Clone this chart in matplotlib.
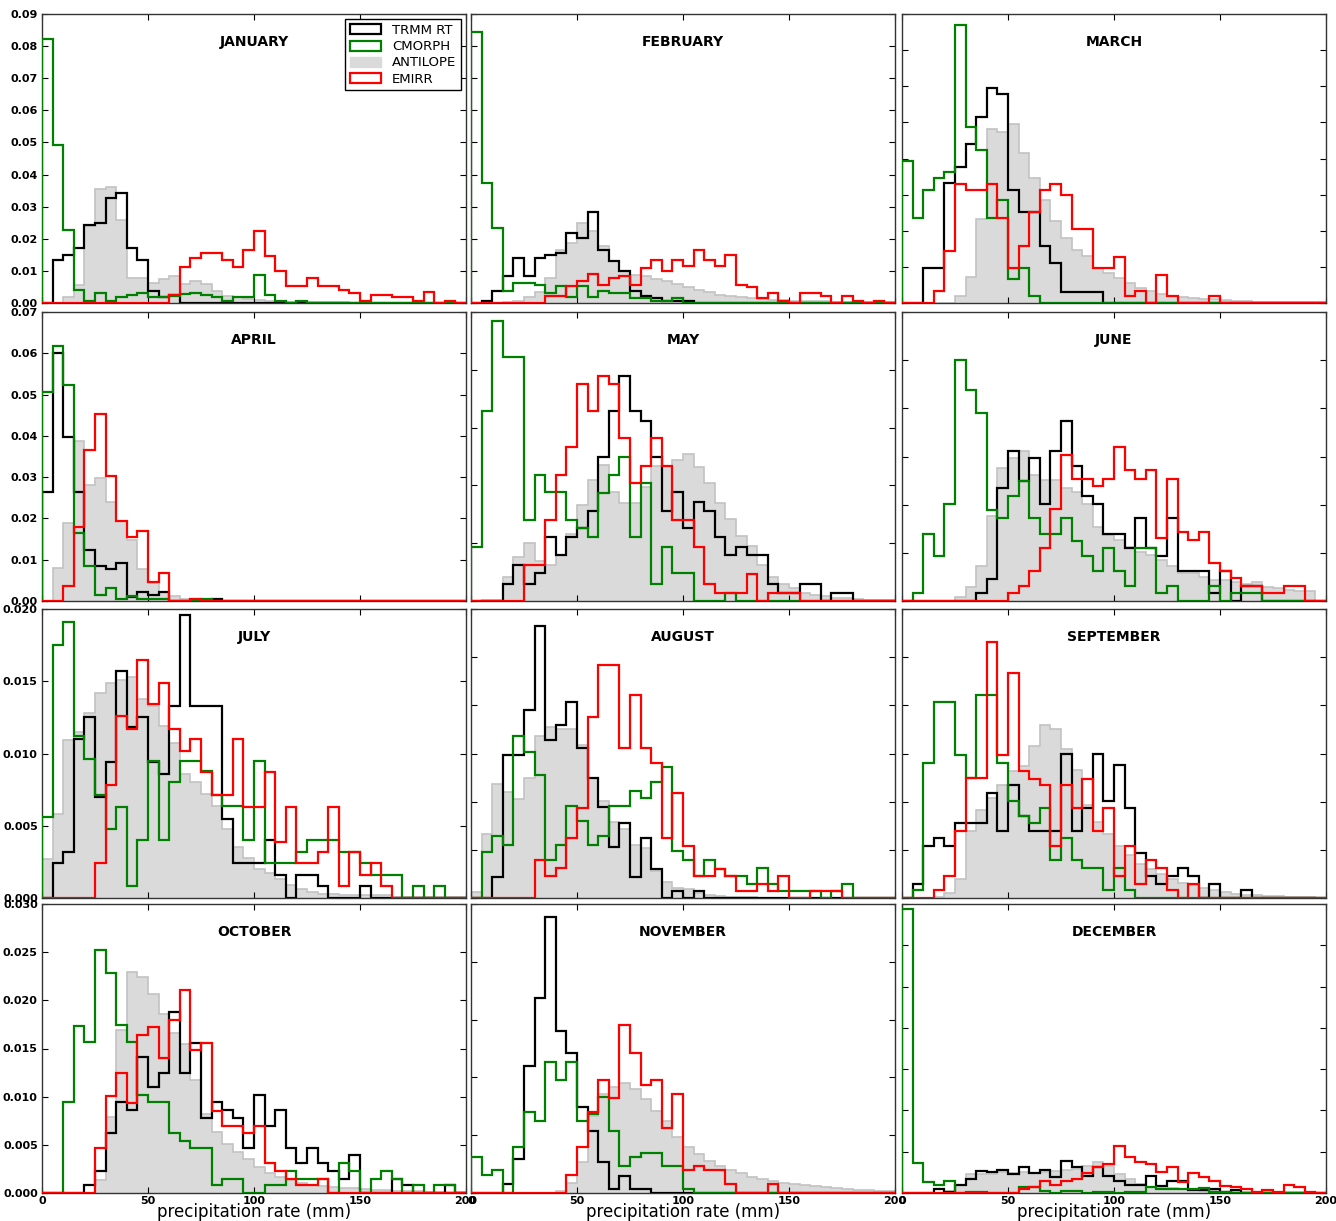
import matplotlib
matplotlib.use("Agg")
import matplotlib.pyplot as plt
import numpy as np
from matplotlib.patches import Patch
from matplotlib.ticker import MultipleLocator, FormatStrFormatter

# histogram bins: 5 mm wide, 0-200 mm
bin_edges = np.arange(0, 205, 5)

months = ['JANUARY', 'FEBRUARY', 'MARCH', 'APRIL', 'MAY', 'JUNE',
          'JULY', 'AUGUST', 'SEPTEMBER', 'OCTOBER', 'NOVEMBER', 'DECEMBER']
products = ['TRMM RT', 'CMORPH', 'ANTILOPE', 'EMIRR']

# normalised frequency per bin
jan_trmm = [0, .0133, .0148, .0172, .0242, .0249, .0327, .0344, .0170, .0135, .0038, .0019, .0024, 0, 0, 0, 0, 0, 0, 0,
            0, 0, 0, 0, 0, 0, 0, 0, 0, 0, 0, 0, 0, 0, 0, 0, 0, 0, 0, 0]
jan_cmorph = [.0822, .0493, .0226, .0039, .0007, .0030, .0007, .0019, .0024, .0030, .0019, .0019, .0023, .0027, .0030, .0024, .0019, .0007, .0019, .0019,
              .0086, .0024, .0007, 0, .0007, 0, 0, 0, 0, 0, 0, 0, 0, 0, 0, 0, 0, 0, 0, 0]
jan_antilope = [0, 0, .0020, .0056, .0240, .0356, .0362, .0260, .0078, .0078, .0062, .0075, .0083, .0060, .0070, .0060, .0036, .0023, .0019, .0012,
                .0008, .0006, .0005, .0004, .0003, .0003, .0002, .0002, .0002, .0001, .0001, .0001, .0001, .0001, 0, 0, 0, 0, 0, 0]
jan_emirr = [0, 0, 0, 0, 0, 0, 0, 0, 0, 0, 0, 0, .0024, .0112, .0140, .0156, .0156, .0133, .0112, .0166,
             .0225, .0145, .0100, .0052, .0052, .0079, .0052, .0052, .0041, .0031, .0007, .0024, .0024, .0019, .0019, .0007, .0033, 0, .0007, 0]

feb_trmm = [0, .0006, .0038, .0084, .0140, .0084, .0140, .0148, .0156, .0217, .0201, .0282, .0166, .0130, .0100, .0038, .0023, .0015, .0006, .0006,
            .0006, 0, 0, 0, 0, 0, 0, 0, 0, 0, 0, 0, 0, 0, 0, 0, 0, 0, 0, 0]
feb_cmorph = [.0844, .0374, .0234, .0038, .0062, .0062, .0056, .0031, .0054, .0019, .0054, .0019, .0038, .0031, .0031, .0015, .0015, .0006, .0006, .0015,
              0, 0, 0, 0, 0, 0, 0, 0, 0, 0, 0, 0, 0, 0, 0, 0, 0, 0, 0, 0]
feb_antilope = [0, 0, 0, .0002, .0006, .0018, .0035, .0078, .0166, .0187, .0249, .0224, .0178, .0130, .0099, .0088, .0083, .0075, .0067, .0060,
                .0050, .0041, .0033, .0026, .0021, .0018, .0015, .0012, .0010, .0008, .0007, .0006, .0005, .0005, .0004, .0004, .0003, .0003, .0002, .0002]
feb_emirr = [0, 0, 0, 0, 0, 0, 0, .0023, .0023, .0052, .0070, .0090, .0057, .0077, .0083, .0057, .0110, .0135, .0100, .0135,
             .0115, .0166, .0135, .0115, .0148, .0057, .0050, .0015, .0031, .0006, 0, .0031, .0031, .0023, 0, .0023, .0006, 0, .0006, 0]

mar_trmm = [0, 0, .0048, .0048, .0166, .0188, .0220, .0258, .0298, .0289, .0157, .0126, .0126, .0079, .0055, .0015, .0015, .0015, .0015, 0,
            0, 0, 0, 0, 0, 0, 0, 0, 0, 0, 0, 0, 0, 0, 0, 0, 0, 0, 0, 0]
mar_cmorph = [.0196, .0118, .0157, .0173, .0181, .0385, .0243, .0212, .0118, .0142, .0033, .0048, .0009, 0, 0, 0, 0, 0, 0, 0,
              0, 0, 0, 0, 0, 0, 0, 0, 0, 0, 0, 0, 0, 0, 0, 0, 0, 0, 0, 0]
mar_antilope = [0, 0, 0, 0, 0, .0009, .0036, .0116, .0241, .0237, .0248, .0207, .0173, .0142, .0113, .0090, .0074, .0065, .0049, .0042,
                .0035, .0027, .0021, .0016, .0013, .0010, .0008, .0007, .0006, .0005, .0004, .0003, .0003, .0002, .0002, .0002, .0001, .0001, .0001, .0001]
mar_emirr = [0, 0, 0, .0016, .0072, .0165, .0157, .0157, .0165, .0118, .0048, .0079, .0126, .0157, .0165, .0149, .0102, .0102, .0048, .0048,
             .0063, .0009, .0016, 0, .0039, .0009, 0, 0, 0, .0009, 0, 0, 0, 0, 0, 0, 0, 0, 0, 0]

apr_trmm = [.0265, .0601, .0398, .0265, .0123, .0085, .0077, .0093, .0010, .0023, .0015, .0023, 0, 0, 0, 0, .0006, 0, 0, 0,
            0, 0, 0, 0, 0, 0, 0, 0, 0, 0, 0, 0, 0, 0, 0, 0, 0, 0, 0, 0]
apr_cmorph = [.0506, .0617, .0523, .0164, .0085, .0015, .0031, .0006, .0013, .0006, .0006, .0006, 0, 0, .0003, .0006, 0, 0, 0, 0,
              0, 0, 0, 0, 0, 0, 0, 0, 0, 0, 0, 0, 0, 0, 0, 0, 0, 0, 0, 0]
apr_antilope = [0, .0079, .0188, .0387, .0282, .0297, .0239, .0194, .0148, .0077, .0043, .0023, .0013, .0006, .0003, .0002, .0001, 0, 0, 0,
                0, 0, 0, 0, 0, 0, 0, 0, 0, 0, 0, 0, 0, 0, 0, 0, 0, 0, 0, 0]
apr_emirr = [0, 0, .0036, .0180, .0365, .0454, .0303, .0194, .0156, .0170, .0047, .0069, 0, 0, .0006, 0, 0, 0, 0, 0,
             0, 0, 0, 0, 0, 0, 0, 0, 0, 0, 0, 0, 0, 0, 0, 0, 0, 0, 0, 0]

may_trmm = [0, 0, 0, .0015, .0031, .0015, .0024, .0055, .0040, .0055, .0063, .0078, .0125, .0164, .0195, .0164, .0156, .0125, .0078, .0094,
            .0063, .0086, .0078, .0055, .0040, .0047, .0040, .0040, .0015, .0007, .0007, .0015, .0015, 0, .0007, .0007, 0, 0, 0, 0]
may_cmorph = [.0047, .0164, .0242, .0211, .0211, .0070, .0109, .0094, .0094, .0070, .0063, .0055, .0093, .0109, .0125, .0055, .0102, .0015, .0047, .0024,
              .0024, 0, 0, 0, .0007, 0, 0, 0, 0, 0, 0, 0, 0, 0, 0, 0, 0, 0, 0, 0]
may_antilope = [0, .0001, .0001, .0021, .0038, .0050, .0035, .0031, .0040, .0058, .0083, .0105, .0118, .0094, .0085, .0085, .0099, .0117, .0117, .0122,
                .0127, .0116, .0102, .0085, .0071, .0056, .0048, .0031, .0021, .0015, .0011, .0007, .0005, .0004, .0003, .0003, .0002, .0001, .0001, .0001]
may_emirr = [0, 0, 0, 0, 0, .0031, .0031, .0070, .0109, .0133, .0188, .0164, .0195, .0188, .0141, .0102, .0117, .0141, .0117, .0070,
             .0070, .0047, .0015, .0007, .0007, .0007, .0023, 0, .0007, .0007, .0007, 0, 0, 0, 0, 0, 0, 0, 0, 0]

jun_trmm = [0, 0, 0, 0, 0, 0, 0, .0008, .0023, .0117, .0156, .0125, .0148, .0101, .0156, .0187, .0140, .0109, .0101, .0070,
            .0070, .0055, .0086, .0055, .0047, .0086, .0031, .0031, .0031, .0008, .0031, 0, .0016, .0016, 0, 0, 0, 0, 0, 0]
jun_cmorph = [0, .0008, .0070, .0047, .0101, .0250, .0219, .0195, .0094, .0086, .0109, .0125, .0086, .0070, .0070, .0086, .0062, .0047, .0031, .0055,
              .0031, .0016, .0055, .0055, .0008, .0016, 0, 0, 0, .0016, 0, .0008, .0008, .0008, 0, 0, 0, 0, 0, 0]
jun_antilope = [0, 0, 0, 0, 0, .0004, .0015, .0036, .0088, .0138, .0148, .0156, .0131, .0126, .0126, .0117, .0113, .0101, .0077, .0068,
                .0063, .0056, .0051, .0048, .0043, .0036, .0029, .0029, .0025, .0022, .0022, .0020, .0018, .0020, .0015, .0013, .0011, .0010, .0010, 0]
jun_emirr = [0, 0, 0, 0, 0, 0, 0, 0, 0, 0, .0008, .0016, .0031, .0055, .0096, .0152, .0127, .0127, .0119, .0127,
             .0160, .0136, .0127, .0136, .0065, .0127, .0072, .0063, .0072, .0039, .0031, .0024, .0016, .0016, .0008, .0008, .0016, .0016, 0, 0]

jul_trmm = [0, .0024, .0032, .0110, .0125, .0070, .0094, .0157, .0118, .0125, .0094, .0086, .0133, .0196, .0133, .0133, .0133, .0055, .0024, .0024,
            .0024, .0040, .0016, 0, .0016, .0016, .0008, 0, 0, 0, .0008, 0, 0, 0, 0, 0, 0, 0, 0, 0]
jul_cmorph = [.0056, .0175, .0191, .0112, .0096, .0071, .0048, .0063, .0008, .0040, .0095, .0040, .0080, .0095, .0095, .0088, .0071, .0064, .0064, .0040,
              .0095, .0024, .0024, .0024, .0032, .0040, .0040, .0040, .0032, .0032, .0024, .0016, .0016, .0016, 0, .0008, 0, .0008, 0, 0]
jul_antilope = [.0027, .0058, .0109, .0115, .0128, .0142, .0149, .0151, .0153, .0138, .0133, .0119, .0107, .0086, .0080, .0072, .0064, .0048, .0035, .0028,
                .0020, .0017, .0013, .0009, .0006, .0004, .0003, .0003, .0002, .0002, .0002, .0002, .0002, .0001, .0001, .0001, .0001, .0001, .0001, .0001]
jul_emirr = [0, 0, 0, 0, 0, .0024, .0078, .0126, .0117, .0165, .0134, .0149, .0117, .0102, .0110, .0087, .0071, .0071, .0110, .0063,
             .0063, .0087, .0039, .0063, .0024, .0024, .0032, .0063, .0008, .0032, .0016, .0024, .0008, 0, 0, 0, 0, 0, 0, 0]

aug_trmm = [0, 0, .0022, .0148, .0148, .0195, .0282, .0164, .0180, .0203, .0156, .0125, .0094, .0053, .0078, .0022, .0062, .0030, 0, .0007,
            0, .0007, 0, 0, 0, 0, 0, 0, 0, 0, 0, 0, 0, 0, 0, 0, 0, 0, 0, 0]
aug_cmorph = [0, .0048, .0064, .0055, .0168, .0152, .0128, .0039, .0055, .0096, .0080, .0055, .0064, .0096, .0096, .0111, .0104, .0120, .0136, .0049,
              .0039, .0023, .0039, .0030, .0023, .0023, .0015, .0031, .0015, .0007, .0007, .0007, .0007, 0, .0007, .0015, 0, 0, 0, 0]
aug_antilope = [.0006, .0066, .0118, .0110, .0103, .0125, .0168, .0178, .0175, .0175, .0159, .0125, .0101, .0079, .0072, .0055, .0052, .0028, .0017, .0010,
                .0009, .0005, .0003, .0002, .0001, .0001, .0001, 0, 0, 0, 0, 0, 0, 0, 0, 0, 0, 0, 0, 0]
aug_emirr = [0, 0, 0, 0, 0, 0, .0039, .0023, .0031, .0062, .0093, .0188, .0242, .0242, .0156, .0211, .0156, .0140, .0062, .0109,
             .0054, .0023, .0023, .0030, .0023, .0007, .0007, .0015, .0007, .0023, 0, 0, .0007, .0007, .0007, 0, 0, 0, 0, 0]

sep_trmm = [0, .0015, .0054, .0062, .0054, .0078, .0078, .0078, .0109, .0070, .0117, .0085, .0070, .0070, .0070, .0150, .0070, .0093, .0150, .0101,
            .0138, .0093, .0047, .0023, .0015, .0023, .0031, .0023, 0, .0015, 0, 0, .0008, 0, 0, 0, 0, 0, 0, 0]
sep_cmorph = [0, .0008, .0140, .0203, .0203, .0148, .0125, .0211, .0211, .0140, .0101, .0085, .0078, .0093, .0039, .0062, .0039, .0031, .0031, .0008,
              .0031, .0008, 0, 0, 0, 0, 0, 0, 0, 0, 0, 0, 0, 0, 0, 0, 0, 0, 0, 0]
sep_antilope = [0, 0, 0, .0001, .0005, .0020, .0070, .0091, .0104, .0117, .0132, .0137, .0158, .0180, .0175, .0155, .0133, .0097, .0079, .0066,
                .0054, .0045, .0035, .0030, .0025, .0020, .0016, .0013, .0010, .0008, .0006, .0004, .0003, .0003, .0002, .0002, .0001, .0001, .0001, 0]
sep_emirr = [0, 0, 0, .0008, .0023, .0070, .0125, .0125, .0266, .0148, .0234, .0132, .0124, .0117, .0054, .0117, .0093, .0124, .0070, .0093,
             .0023, .0054, .0015, .0039, .0031, .0008, 0, .0015, 0, 0, 0, 0, 0, 0, 0, 0, 0, 0, 0, 0]

oct_trmm = [0, 0, 0, 0, .0008, .0023, .0062, .0094, .0086, .0141, .0110, .0125, .0188, .0125, .0156, .0078, .0094, .0086, .0078, .0047,
            .0102, .0070, .0086, .0047, .0031, .0047, .0031, .0023, .0015, .0039, 0, 0, 0, .0015, .0008, 0, 0, 0, .0008, 0]
oct_cmorph = [0, 0, .0094, .0173, .0157, .0252, .0228, .0174, .0157, .0102, .0094, .0094, .0062, .0054, .0047, .0047, .0008, .0015, .0015, 0,
              0, .0008, .0008, .0023, .0015, .0015, .0015, 0, .0031, .0023, 0, .0015, .0023, .0015, 0, .0008, 0, .0008, .0008, 0]
oct_antilope = [0, 0, 0, 0, 0, .0013, .0079, .0169, .0229, .0224, .0207, .0186, .0166, .0155, .0117, .0082, .0063, .0051, .0043, .0035,
                .0027, .0021, .0017, .0013, .0010, .0008, .0007, .0006, .0005, .0005, .0004, .0003, .0003, .0002, .0002, .0002, .0001, .0001, .0001, .0001]
oct_emirr = [0, 0, 0, 0, 0, .0047, .0101, .0125, .0093, .0164, .0172, .0140, .0180, .0211, .0148, .0156, .0085, .0070, .0070, .0062,
             .0070, .0031, .0023, .0015, .0008, .0008, .0015, 0, 0, 0, 0, 0, 0, 0, 0, 0, 0, 0, 0, 0]

nov_trmm = [0, 0, 0, .0016, .0059, .0219, .0337, .0477, .0281, .0242, .0148, .0108, .0053, .0007, .0030, .0007, .0007, 0, 0, 0,
            0, 0, 0, 0, 0, 0, 0, 0, 0, 0, 0, 0, 0, 0, 0, 0, 0, 0, 0, 0]
nov_cmorph = [.0062, .0032, .0039, 0, .0079, .0141, .0125, .0227, .0196, .0227, .0125, .0137, .0166, .0108, .0047, .0062, .0070, .0070, .0047, .0047,
              .0007, 0, 0, 0, 0, 0, 0, 0, 0, 0, 0, 0, 0, 0, 0, 0, 0, 0, 0, 0]
nov_antilope = [0, 0, 0, 0, 0, 0, 0, 0, .0004, .0017, .0053, .0134, .0171, .0184, .0190, .0180, .0163, .0142, .0124, .0097,
                .0079, .0067, .0056, .0047, .0040, .0034, .0028, .0024, .0021, .0018, .0016, .0013, .0012, .0010, .0008, .0007, .0006, .0005, .0004, .0003]
nov_emirr = [0, 0, 0, 0, 0, 0, 0, 0, 0, .0032, .0079, .0141, .0196, .0164, .0290, .0242, .0187, .0196, .0112, .0171,
             .0039, .0047, .0039, .0039, .0016, 0, 0, 0, .0016, 0, 0, 0, 0, 0, 0, 0, 0, 0, 0, 0]

dec_trmm = [0, 0, 0, .0019, .0003, .0040, .0068, .0108, .0100, .0113, .0092, .0124, .0095, .0111, .0076, .0153, .0124, .0084, .0124, .0084,
            .0057, .0040, .0040, .0084, .0032, .0057, .0057, .0015, .0015, .0019, .0006, .0015, 0, 0, 0, 0, 0, 0, 0, 0]
dec_cmorph = [.1376, .0145, .0052, .0040, .0060, 0, .0006, .0006, 0, 0, 0, .0031, .0031, .0011, 0, .0011, .0011, 0, .0005, .0005,
              0, .0006, .0006, .0027, .0018, .0018, .0018, .0018, .0023, .0006, .0006, 0, 0, 0, 0, 0, 0, 0, 0, 0]
dec_antilope = [0, 0, 0, 0, .0011, .0040, .0092, .0092, .0092, .0100, .0095, .0100, .0095, .0100, .0105, .0111, .0116, .0132, .0149, .0132,
                .0092, .0068, .0044, .0031, .0024, .0024, .0019, .0015, .0011, .0008, .0007, .0006, .0005, .0005, .0004, .0004, .0003, .0003, .0003, .0002]
dec_emirr = [0, 0, 0, 0, 0, 0, 0, 0, 0, 0, 0, .0018, .0031, .0057, .0040, .0057, .0068, .0095, .0124, .0141,
             .0229, .0176, .0149, .0141, .0100, .0124, .0052, .0095, .0076, .0057, .0036, .0031, .0019, .0006, .0015, .0006, .0040, .0031, .0006, 0]

monthly = [
    (jan_trmm, jan_cmorph, jan_antilope, jan_emirr),
    (feb_trmm, feb_cmorph, feb_antilope, feb_emirr),
    (mar_trmm, mar_cmorph, mar_antilope, mar_emirr),
    (apr_trmm, apr_cmorph, apr_antilope, apr_emirr),
    (may_trmm, may_cmorph, may_antilope, may_emirr),
    (jun_trmm, jun_cmorph, jun_antilope, jun_emirr),
    (jul_trmm, jul_cmorph, jul_antilope, jul_emirr),
    (aug_trmm, aug_cmorph, aug_antilope, aug_emirr),
    (sep_trmm, sep_cmorph, sep_antilope, sep_emirr),
    (oct_trmm, oct_cmorph, oct_antilope, oct_emirr),
    (nov_trmm, nov_cmorph, nov_antilope, nov_emirr),
    (dec_trmm, dec_cmorph, dec_antilope, dec_emirr),
]

# y range and tick step of each panel
y_top = [0.09, 0.09, 0.04, 0.07, 0.025, 0.03, 0.020, 0.03, 0.03, 0.030, 0.05, 0.14]
y_step = [0.01, 0.01, 0.005, 0.01, 0.005, 0.005, 0.005, 0.005, 0.005, 0.005, 0.01, 0.02]

TRMM_COLOR = 'black'
CMORPH_COLOR = '#008000'
ANTILOPE_FILL = '#dadada'
ANTILOPE_EDGE = '#c2c2c2'
EMIRR_COLOR = '#ff0000'

W, H = 1336, 1221
fig = plt.figure(figsize=(W / 100, H / 100), dpi=100)
fig.patch.set_facecolor('white')

col_left = [42, 471, 902]
row_top = [14, 312, 609, 904]
panel_w, panel_h = 424, 289

for i, name in enumerate(months):
    r, c = divmod(i, 3)
    ax = fig.add_axes([col_left[c] / W, 1 - (row_top[r] + panel_h) / H, panel_w / W, panel_h / H])
    trmm, cmorph, antilope, emirr = monthly[i]

    ax.stairs(antilope, bin_edges, fill=True, color=ANTILOPE_FILL, zorder=1)
    ax.stairs(antilope, bin_edges, color=ANTILOPE_EDGE, lw=1.2, zorder=1.5)
    ax.stairs(trmm, bin_edges, color=TRMM_COLOR, lw=1.6, zorder=3)
    ax.stairs(cmorph, bin_edges, color=CMORPH_COLOR, lw=1.6, zorder=3)
    ax.stairs(emirr, bin_edges, color=EMIRR_COLOR, lw=1.6, zorder=4)

    ax.set_xlim(0, 200)
    ax.set_ylim(0, y_top[i])
    ax.xaxis.set_major_locator(MultipleLocator(50))
    ax.yaxis.set_major_locator(MultipleLocator(y_step[i]))
    ax.tick_params(direction='in', top=True, right=True, length=4, width=0.8,
                   labelsize=8, pad=3)
    ax.tick_params(axis='x', pad=2)
    for sp in ax.spines.values():
        sp.set_linewidth(1.0)
        sp.set_color('#333333')

    if c == 0:
        fmt = '%.2f' if y_step[i] >= 0.01 else '%.3f'
        ax.yaxis.set_major_formatter(FormatStrFormatter(fmt))
        for lab in ax.get_yticklabels():
            lab.set_fontweight('bold')
    else:
        ax.set_yticklabels([])

    if r == 3:
        for lab in ax.get_xticklabels():
            lab.set_fontweight('bold')
        ax.set_xlabel('precipitation rate (mm)', fontsize=12, labelpad=-2)
    else:
        ax.set_xticklabels([])

    ax.text(0.5, 0.903, name, transform=ax.transAxes, ha='center', va='center',
            fontsize=10, fontweight='bold')

    if i == 0:
        handles = [Patch(facecolor='white', edgecolor=TRMM_COLOR, lw=1.6),
                   Patch(facecolor='white', edgecolor=CMORPH_COLOR, lw=1.6),
                   Patch(facecolor=ANTILOPE_FILL, edgecolor=ANTILOPE_FILL),
                   Patch(facecolor='white', edgecolor=EMIRR_COLOR, lw=1.6)]
        leg = ax.legend(handles, products, loc='upper right', fontsize=9.5,
                        fancybox=False, framealpha=1, edgecolor='black',
                        handlelength=2.4, handleheight=0.8, labelspacing=0.25,
                        borderaxespad=0.4, borderpad=0.35, handletextpad=0.8)
        leg.get_frame().set_linewidth(1.0)

fig.savefig('out.png', dpi=100, facecolor='white')
